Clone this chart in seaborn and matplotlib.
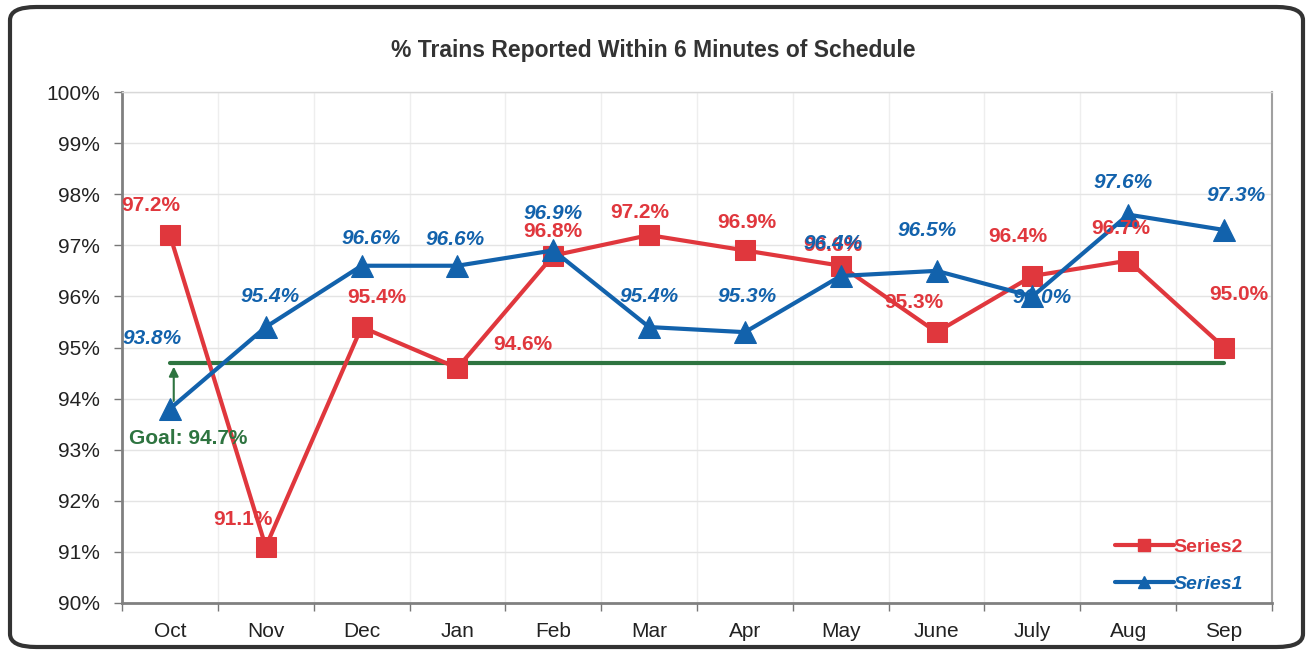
import numpy as np
import pandas as pd
import seaborn as sns
import matplotlib.pyplot as plt
from matplotlib.patches import FancyBboxPatch
from matplotlib.lines import Line2D

months = ["Oct", "Nov", "Dec", "Jan", "Feb", "Mar", "Apr", "May", "June", "July", "Aug", "Sep"]
series2 = [97.2, 91.1, 95.4, 94.6, 96.8, 97.2, 96.9, 96.6, 95.3, 96.4, 96.7, 95.0]
series1 = [93.8, 95.4, 96.6, 96.6, 96.9, 95.4, 95.3, 96.4, 96.5, 96.0, 97.6, 97.3]
goal = 94.7
title = "% Trains Reported Within 6 Minutes of Schedule"

# label offsets in pixels (dx, dy up)
off2 = [(-19, 30), (-23, 27), (15, 30), (65, 23), (0, 24), (-9, 23), (2, 28), (-8, 20),
        (-23, 30), (-15, 39), (-8, 32), (15, 53)]
off1 = [(-18, 70), (4, 31), (9, 27), (-2, 26), (0, 37), (0, 31), (2, 36), (-8, 32),
        (-10, 40), (10, -1), (-5, 32), (12, 34)]

RED = "#E0373D"
BLUE = "#1262AC"
GREEN = "#2E7440"

sns.set_theme(style="white")
plt.rcParams['font.family'] = ['Liberation Sans', 'DejaVu Sans']

fig = plt.figure(figsize=(13.15, 6.57), dpi=100)
ax = fig.add_axes([122/1315, 1-603/657, 1150/1315, 511/657])

df = pd.DataFrame({"month": months * 2,
                   "value": series2 + series1,
                   "series": ["Series2"] * 12 + ["Series1"] * 12})
df["x"] = np.tile(np.arange(len(months)), 2)

# goal line
ax.plot([0, len(months) - 1], [goal, goal], color=GREEN, lw=3, zorder=2)

sns.lineplot(data=df[df.series == "Series2"], x="x", y="value", ax=ax, color=RED,
             lw=3, marker="s", markersize=15, markeredgecolor=RED, sort=False,
             legend=False, zorder=3)
sns.lineplot(data=df[df.series == "Series1"], x="x", y="value", ax=ax, color=BLUE,
             lw=3, marker="^", markersize=16, markeredgecolor=BLUE, sort=False,
             legend=False, zorder=4)

k = 0.72
for i, v in enumerate(series2):
    dx, dy = off2[i]
    ax.annotate(f"{v:.1f}%", (i, v), xytext=(dx * k, dy * k), textcoords="offset points",
                ha="center", va="center", color=RED, fontsize=15, fontweight="bold", zorder=6)
for i, v in enumerate(series1):
    dx, dy = off1[i]
    ax.annotate(f"{v:.1f}%", (i, v), xytext=(dx * k, dy * k), textcoords="offset points",
                ha="center", va="center", color=BLUE, fontsize=15, fontweight="bold",
                fontstyle="italic", zorder=6)

# goal arrow and label
ax.annotate("", xy=(0.04, goal - 0.02), xytext=(0.04, series1[0] + 0.1),
            arrowprops=dict(arrowstyle="-|>", color=GREEN, lw=1.5, mutation_scale=14), zorder=5)
ax.annotate(f"Goal: {goal:.1f}%", (0, series1[0]), xytext=(18 * k, -30 * k),
            textcoords="offset points", ha="center", va="center", color=GREEN,
            fontsize=15, fontweight="bold", zorder=6)

ax.set_xlim(-0.5, len(months) - 0.5)
ax.set_ylim(90, 100)
ax.set_yticks(np.arange(90, 101, 1))
ax.set_yticklabels([f"{t}%" for t in range(90, 101)])
ax.set_xticks(np.arange(len(months)))
ax.set_xticklabels(months)
ax.set_xticks(np.arange(-0.5, len(months), 1), minor=True)
ax.set_xlabel("")
ax.set_ylabel("")

ax.grid(axis="y", color="#E4E4E4", lw=1)
ax.grid(axis="x", which="minor", color="#EEEEEE", lw=1)
ax.set_axisbelow(True)
ax.tick_params(axis="y", which="major", labelsize=15, labelcolor="#222222", length=6,
               width=1, color="#777777", direction="out", left=True, pad=10)
ax.tick_params(axis="x", which="major", labelsize=15, labelcolor="#222222", length=0, pad=14)
ax.tick_params(axis="x", which="minor", length=6, width=1, color="#777777", direction="out",
               bottom=True)
for s in ["left", "bottom"]:
    ax.spines[s].set_color("#808080")
    ax.spines[s].set_linewidth(2)
ax.spines["right"].set_color("#A0A0A0")
ax.spines["right"].set_linewidth(1.5)
ax.spines["top"].set_color("#D8D8D8")
ax.spines["top"].set_linewidth(1)

# legend
handles = [Line2D([0], [0], color=RED, lw=3, marker="s", markersize=8),
           Line2D([0], [0], color=BLUE, lw=3, marker="^", markersize=8)]
leg = ax.legend(handles, ["Series2", "Series1"], loc="lower right", frameon=False,
                fontsize=14, handlelength=3.0, handletextpad=0.0, labelspacing=1.0,
                bbox_to_anchor=(0.99, -0.015))
for t, c, st in zip(leg.get_texts(), [RED, BLUE], ["normal", "italic"]):
    t.set_color(c)
    t.set_fontweight("bold")
    t.set_fontstyle(st)

fig.text(653 / 1315, 1 - 50 / 657, title, ha="center", va="center", fontsize=16.5,
         fontweight="bold", color="#333333")

border = FancyBboxPatch((10 / 1315, 10 / 657), 1293 / 1315, 640 / 657,
                        boxstyle="round,pad=0,rounding_size=0.02", transform=fig.transFigure,
                        fill=False, edgecolor="#333333", lw=3)
fig.patches.append(border)

fig.savefig("out.png", dpi=100)
